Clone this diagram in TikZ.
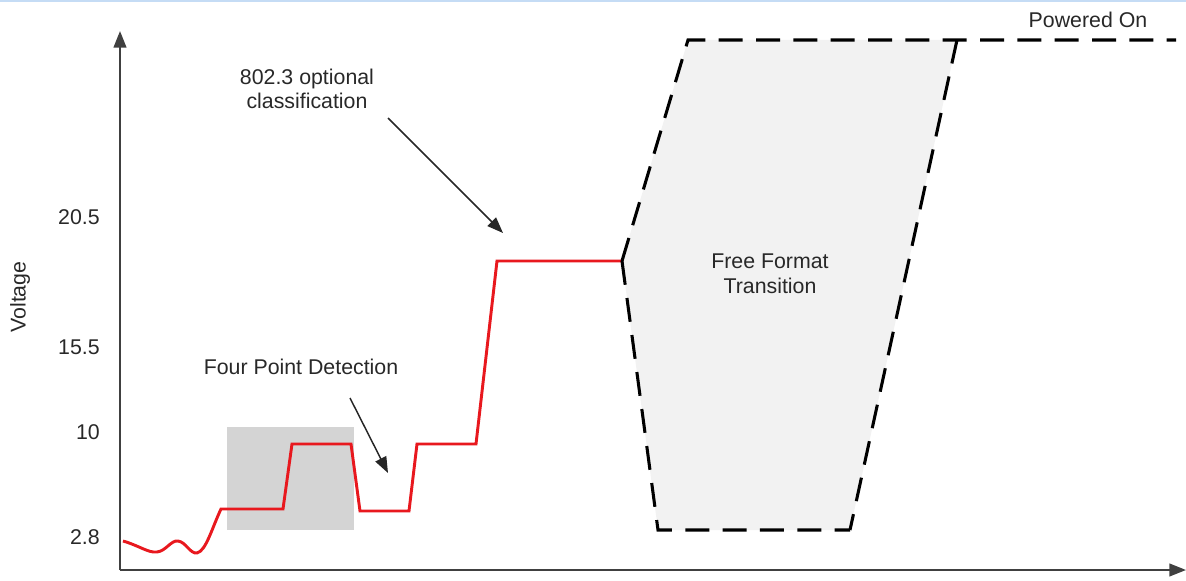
\documentclass[tikz,border=0pt]{standalone}
\usepackage{fontspec}
\setmainfont{Liberation Sans}
\usetikzlibrary{arrows.meta}
\definecolor{axisgray}{RGB}{64,64,64}
\definecolor{txtgray}{RGB}{40,40,40}
\definecolor{sigred}{RGB}{232,24,30}
\definecolor{boxgray}{RGB}{212,212,212}
\definecolor{zonegray}{RGB}{242,242,242}
\definecolor{topblue}{RGB}{197,220,245}
\tikzset{
  lbl/.style={text=txtgray, font=\fontsize{16}{18.5}\selectfont, inner sep=0pt, align=center},
  ylbl/.style={lbl, anchor=east},
  axis/.style={draw=axisgray, line width=1.6pt, -{Triangle[length=12.5pt,width=9.5pt]}},
  pointer/.style={draw=black!85, line width=1.1pt, -{Triangle[length=12pt,width=9pt]}},
  signal/.style={draw=sigred, line width=2.2pt, line join=miter},
  transition/.style={draw=black, line width=2.3pt, dash pattern=on 18pt off 10pt},
}
\begin{document}
\begin{tikzpicture}[x=0.75pt, y=-0.75pt]
\useasboundingbox (0,0) rectangle (1186,581);
% thin rule along the top edge
\fill[topblue] (0,0) rectangle (1186,2);

% shaded areas
\fill[boxgray] (227,427) rectangle (354,530);
\fill[zonegray] (688,40) -- (957,40) -- (850,530) -- (658,530) -- (622,261) -- cycle;

% axes
\coordinate (origin) at (120,570);
\coordinate (ytop) at (120,31);
\coordinate (xend) at (1186,570);
\draw[axis] (origin) -- (ytop);
\draw[axis] (origin) -- (xend);

% axis labels
\node[lbl, rotate=90] (vlabel) at (20,297) {Voltage};
\node[ylbl] (v205) at (100,217) {20.5};
\node[ylbl] (v155) at (100,347) {15.5};
\node[ylbl] (v10)  at (100,432) {10};
\node[ylbl] (v28)  at (100,537) {2.8};

% detection and classification signal
\coordinate (s0) at (123,541);
\coordinate (cls) at (622,261);
\draw[signal] (s0)
  .. controls (140,546) and (148,553) .. (157,552)
  .. controls (166,551) and (171,540) .. (178,541)
  .. controls (186,542) and (190,554) .. (197,553)
  .. controls (206,551) and (212,528) .. (221,509)
  -- (283,509) -- (292,444) -- (351,444) -- (360,511) -- (409,511)
  -- (417,444) -- (476,444) -- (497,261) -- (cls);

% free format transition zone and powered-on level
\coordinate (tl) at (688,40);
\coordinate (tr) at (957,40);
\coordinate (br) at (850,530);
\coordinate (bl) at (658,530);
\coordinate (pon) at (1176,40);
\draw[transition] (cls) -- (tl) -- (tr) -- (pon);
\draw[transition] (tr) -- (br);
\draw[transition] (cls) -- (bl) -- (br);

% annotations
\node[lbl] (four) at (301,367) {Four Point Detection};
\coordinate (fourtip) at (388,473);
\draw[pointer] (350,398) -- (fourtip);

\node[lbl] (opt) at (307,89) {802.3 optional\\classification};
\coordinate (opttip) at (503,233);
\draw[pointer] (388,118) -- (opttip);

\node[lbl] (free) at (770,274) {Free Format\\Transition};
\node[lbl] (pow) at (1088,20) {Powered On};
\end{tikzpicture}
\end{document}
